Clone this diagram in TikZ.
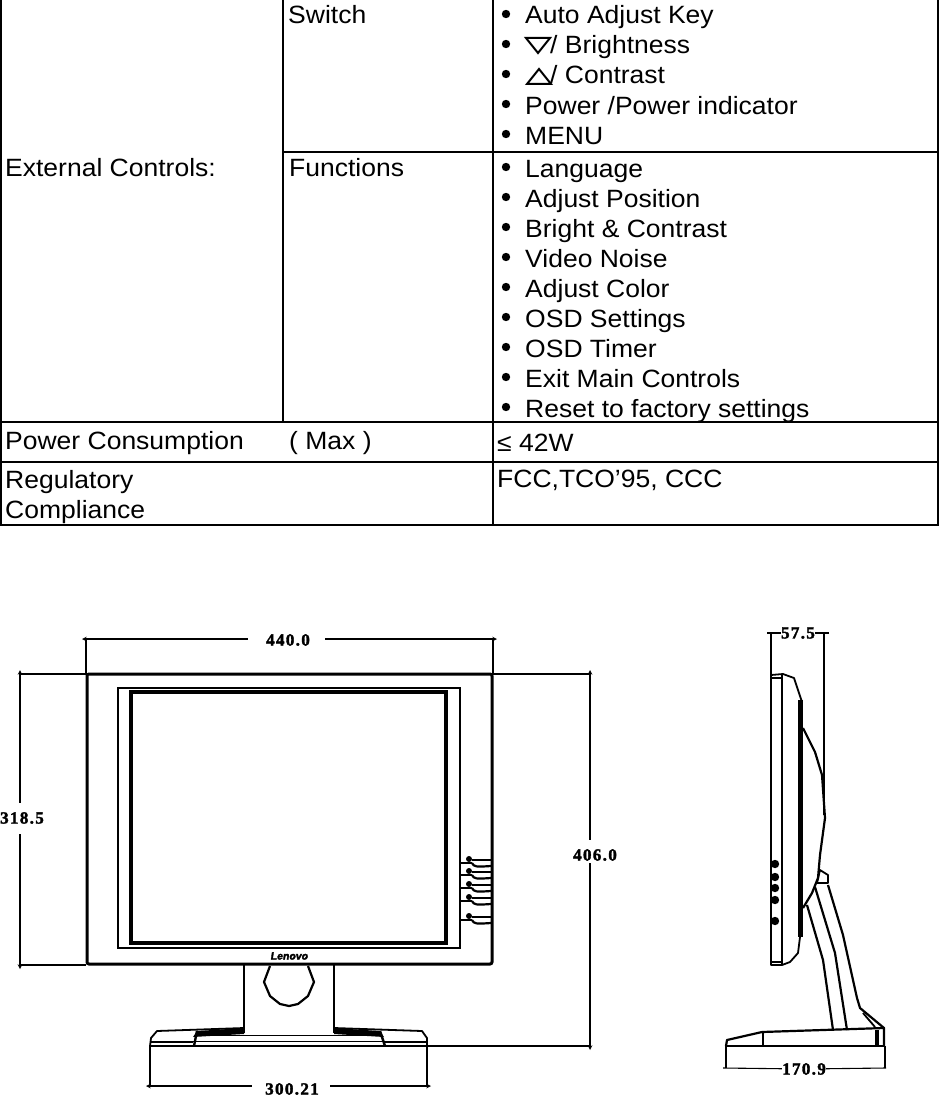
\documentclass[tikz,border=0pt]{standalone}
\usepackage{fontspec}
\setmainfont[FakeStretch=1.06]{Liberation Sans}
\newfontfamily\dimfont[FakeBold=2,LetterSpace=8]{Liberation Serif}
\newfontfamily\logofont[FakeBold=3,FakeSlant=.15]{Liberation Sans}
\tikzset{
	celltext/.style={anchor=base west,inner sep=0pt,font=\fontsize{25}{25}\selectfont},
	dimtext/.style={inner sep=0pt,font=\dimfont\bfseries\fontsize{17}{17}\selectfont},
	rule/.style={line width=1.9pt},
	thinline/.style={line width=1pt},
	midline/.style={line width=1.8pt,line join=round},
	heavyline/.style={line width=2.8pt,line join=round},
	dimline/.style={line width=1.1pt,stealth-},
	extline/.style={line width=1.1pt},
}
\begin{document}
\begin{tikzpicture}[x=1pt,y=-1pt]
	\useasboundingbox(0,0)rectangle(939,1097);
	% table
	\draw[rule](1,0)--(1,525);
	\draw[rule](283,0)--(283,422);
	\draw[rule](493,0)--(493,525);
	\draw[rule](938,0)--(938,525);
	\draw[rule](283,152)--(939,152);
	\draw[rule](0,422)--(939,422);
	\draw[rule](0,462)--(939,462);
	\draw[line width=2.6pt](0,525)--(939,525);
	\node[celltext](extctl) at (5,176){External Controls:};
	\node[celltext](switch) at (288,24){Switch};
	\node[celltext](funcs) at (289,176){Functions};
	\node[celltext](power) at (5,449){Power Consumption};
	\node[celltext](maxval) at (289,449){( Max )};
	\node[celltext](watts) at (497,451){≤ 42W};
	\node[celltext](regul) at (5,488){Regulatory};
	\node[celltext](compl) at (5,518){Compliance};
	\node[celltext](certs) at (497,487){FCC,TCO’95, CCC};
	\foreach \name/\txt/\ypos in {autokey/{Auto Adjust Key}/24,bright/{\hspace{25pt}/ Brightness}/54,contr/{\hspace{25pt}/ Contrast}/84,
		powkey/{Power /Power indicator}/114,menukey/{MENU}/144,
		lang/{Language}/177,adjpos/{Adjust Position}/207,brcon/{Bright \& Contrast}/237,noise/{Video Noise}/267,
		adjcol/{Adjust Color}/297,osdset/{OSD Settings}/327,osdtim/{OSD Timer}/357,exitm/{Exit Main Controls}/387,reset/{Reset to factory settings}/417}{
		\fill(506,\ypos-10)circle(4.2);
		\node[celltext](\name) at (525,\ypos){\txt};
	}
	\draw[line width=2pt,line join=miter](526,38)--(550,38)--(538,53)--cycle;
	\draw[line width=2pt,line join=miter](527,84)--(551,84)--(539,69)--cycle;
	% front view
	\draw[line width=3pt,rounded corners=2pt](87,674)--(492,674)--(492,964)--(87,964)--cycle;
	\draw[line width=2.2pt](118,688)rectangle(460,948);
	\draw[line width=4pt](131,692)rectangle(446,943);
	\node[inner sep=0pt,font=\logofont\bfseries\fontsize{10.5}{10.5}\selectfont](logo) at (289,956){Lenovo};
	\foreach \ypos in {863,875,888,901,920}{
		\draw[line width=2.2pt](460,\ypos)--(472,\ypos);
		\fill(469,\ypos-4)circle(3);
		\draw[midline](472,\ypos-3)--(491,\ypos-3);
		\draw[line width=2.2pt](472,\ypos)..controls(474,\ypos+4)and(476,\ypos+4)..(491,\ypos+3);
	}
	% stand
	\draw[heavyline](244,965)--(244,1033);
	\draw[heavyline](334,965)--(334,1033);
	\draw[line width=2.2pt,line join=round](270,966)--(264,982)--(270,996)--(280,1004)--(289,1006)--(298,1004)--(308,996)--(314,982)--(308,966);
	\draw[midline](150,1046)--(151,1038)--(157,1031)--(244,1028);
	\draw[midline](334,1028)--(422,1031)--(427,1038)--(427,1046);
	\fill(244,1028)--(197,1031)--(193,1037)--(244,1034)--cycle;
	\fill(334,1028)--(380,1031)--(384,1037)--(334,1034)--cycle;
	\draw[thinline](199,1035)--(379,1035);
	\draw[line width=2.4pt](197,1031)--(194,1046);
	\draw[line width=2.4pt](380,1031)--(385,1046);
	\draw[midline](150,1042)--(193,1042);
	\draw[midline](385,1042)--(427,1042);
	\draw[thinline](193,1041)--(385,1041);
	\draw[heavyline](150,1046)--(427,1046);
	% dimensions of the front view
	\node[dimtext](fw) at (288,640){440.0};
	\node[dimtext](fh) at (22,818){318.5};
	\node[dimtext](ft) at (595,855){406.0};
	\node[dimtext](bw) at (292,1089){300.21};
	\coordinate(fwl) at (82,639);
	\coordinate(fwr) at (497,639);
	\coordinate(fht) at (20,670);
	\coordinate(fhb) at (20,969);
	\coordinate(ftt) at (590,670);
	\coordinate(ftb) at (590,1050);
	\coordinate(bwl) at (146,1086);
	\coordinate(bwr) at (431,1086);
	\draw[dimline](fwl)--(248,639);
	\draw[dimline](fwr)--(325,639);
	\draw[dimline](fht)--(20,803);
	\draw[dimline](fhb)--(20,834);
	\draw[dimline](ftt)--(590,840);
	\draw[dimline](ftb)--(590,863);
	\draw[dimline](bwl)--(252,1086);
	\draw[dimline](bwr)--(330,1086);
	\draw[extline](86,639)--(86,674);
	\draw[extline](493,639)--(493,674);
	\draw[extline](20,674)--(86,674);
	\draw[extline](20,965)--(86,965);
	\draw[extline](493,674)--(590,674);
	\draw[extline](427,1046)--(590,1046);
	\draw[extline](150,1046)--(150,1086);
	\draw[extline](427,1046)--(427,1086);
	% side view
	\draw[midline](771,633)--(771,965)--(782,965)--(790,962)--(798,953)--(800,937);
	\draw[midline](771,675)--(783,674)--(794,678)--(798,690)--(802,702);
	\draw[midline](771,678)--(782,678);
	\draw[midline](782,675)--(782,965);
	\draw[midline](771,962)--(783,962);
	\draw[line width=4.4pt](800.5,700)--(800.5,937);
	\draw[line width=2.2pt,line join=round](803,728)--(815,752)--(822,775)--(825,818)--(820,855)--(818,878)--(812,893)--(803,908);
	\draw[midline](817,883)--(820,870)--(828,875)--(828,883)--(816,883);
	\draw[line width=2.2pt,line join=round](807,905)--(823,960)--(833,1030);
	\draw[line width=2.2pt,line join=round](815,887)--(835,953)--(847,1030);
	\draw[line width=2.2pt,line join=round](828,885)--(843,935)--(857,998)--(860,1008)--(884,1028);
	\draw[midline](863,1013)--(875,1027);
	\draw[line width=2.2pt,line join=round](726,1046)--(727,1040)--(762,1032)--(884,1028)--(884,1046);
	\draw[heavyline](726,1046)--(884,1046);
	\draw[heavyline](763,1032)--(763,1046);
	\draw[line width=3.5pt](877,1030)--(877,1046);
	\foreach \ypos in {864,877,888,900,921}{
		\fill(775,\ypos)circle(4.2);
	}
	\node[dimtext](sw) at (798,633){57.5};
	\node[dimtext](sb) at (804,1069){170.9};
	\coordinate(swl) at (767,633);
	\coordinate(swr) at (829,633);
	\coordinate(sbl) at (723,1068);
	\coordinate(sbr) at (886,1068);
	\draw[extline](swl)--(sw);
	\draw[extline](swr)--(sw);
	\draw[extline](824,633)--(824,815);
	\draw[extline](sbl)--(sb);
	\draw[extline](sbr)--(sb);
	\draw[extline](726,1046)--(726,1068);
	\draw[extline](885,1046)--(885,1068);
\end{tikzpicture}
\end{document}
